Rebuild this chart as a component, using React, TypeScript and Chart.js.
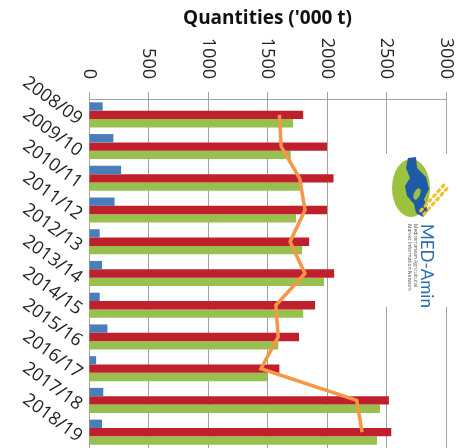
import React, { useEffect, useRef } from "react";
import { Chart, registerables } from "chart.js";

Chart.register(...registerables);

const categories = ["2008/09", "2009/10", "2010/11", "2011/12", "2012/13", "2013/14", "2014/15", "2015/16", "2016/17", "2017/18", "2018/19"];
const blueSeries = [115, 205, 270, 215, 90, 110, 90, 155, 60, 120, 110];
const redSeries = [1800, 2000, 2055, 2000, 1850, 2060, 1900, 1765, 1600, 2520, 2540];
const greenSeries = [1715, 1695, 1775, 1740, 1790, 1975, 1800, 1590, 1500, 2445, 2420];
const orangeSeries = [1600, 1615, 1770, 1815, 1690, 1815, 1570, 1590, 1445, 2250, 2295];
const xTicks = [0, 500, 1000, 1500, 2000, 2500, 3000];
const axisTitle = "Quantities ('000 t)";
const logoTitle = "MED-Amin";
const logoLines = ["Mediterranean Agricultural", "Market Information Network"];

const GRID = "#a3a3a3";

const labelPlugin = {
  id: "axisLabels",
  afterDraw(chart: any) {
    const ctx = chart.ctx;
    const xs = chart.scales.x;
    const ys = chart.scales.y;
    ctx.save();
    ctx.font = "18px 'Open Sans'";
    ctx.fillStyle = "#262626";
    ctx.textAlign = "right";
    ctx.textBaseline = "middle";
    xTicks.forEach((v) => {
      const px = xs.getPixelForValue(v);
      ctx.save();
      ctx.translate(px, xs.bottom - 20);
      ctx.rotate(Math.PI / 2);
      ctx.fillText(String(v), 0, 0);
      ctx.restore();
    });
    ctx.fillStyle = "#1f1f1f";
    ctx.font = "18px 'Open Sans'";
    categories.forEach((c, i) => {
      const py = ys.getPixelForValue(i);
      ctx.save();
      ctx.translate(ys.right - 9, py + 6);
      ctx.rotate((36 * Math.PI) / 180);
      ctx.fillText(c, 0, 0);
      ctx.restore();
    });
    ctx.restore();
  },
};

const logoPlugin = {
  id: "logo",
  afterDraw(chart: any) {
    const ctx = chart.ctx;
    ctx.save();
    ctx.fillStyle = "#ffffff";
    ctx.fillRect(376, 146, 66, 153);
    // green ellipse
    ctx.fillStyle = "#9cc23f";
    ctx.beginPath();
    ctx.ellipse(403, 180, 19, 29, 0, 0, Math.PI * 2);
    ctx.fill();
    // blue shape
    ctx.fillStyle = "#1f5aa6";
    const pts = [
      [400, 150], [408, 149], [409, 160], [418, 169], [421, 181], [416, 191],
      [420, 203], [415, 209], [408, 205], [406, 196], [399, 188], [397, 178],
      [402, 170], [398, 160],
    ];
    ctx.beginPath();
    pts.forEach(([x, y], i) => (i === 0 ? ctx.moveTo(x, y) : ctx.lineTo(x, y)));
    ctx.closePath();
    ctx.fill();
    ctx.fillStyle = "#9cc23f";
    ctx.beginPath();
    ctx.ellipse(409, 186, 3, 6, 0.4, 0, Math.PI * 2);
    ctx.fill();
    // wheat
    ctx.fillStyle = "#f2bf2f";
    for (let i = 0; i < 6; i++) {
      const cx = 435 - i * 4.3;
      const cy = 178 + i * 4.8;
      ctx.beginPath();
      ctx.ellipse(cx, cy, 2.8, 1.7, -0.8, 0, Math.PI * 2);
      ctx.fill();
      ctx.beginPath();
      ctx.ellipse(cx + 3.2, cy + 3.4, 2.8, 1.7, -0.8, 0, Math.PI * 2);
      ctx.fill();
    }
    // text rotated
    ctx.translate(418, 216);
    ctx.rotate(Math.PI / 2);
    ctx.fillStyle = "#2b6cb5";
    ctx.font = "17px Lato";
    ctx.textAlign = "left";
    ctx.textBaseline = "middle";
    ctx.fillText(logoTitle, 0, 0);
    ctx.fillStyle = "#555";
    ctx.font = "5px 'Open Sans'";
    ctx.fillText(logoLines[0], 0, 11);
    ctx.fillText(logoLines[1], 0, 17);
    ctx.restore();
  },
};

export default function App() {
  const canvasRef = useRef<HTMLCanvasElement | null>(null);

  useEffect(() => {
    if (!canvasRef.current) return;
    const chart = new Chart(canvasRef.current, {
      type: "bar",
      data: {
        labels: categories,
        datasets: [
          {
            type: "line",
            label: "Orange",
            data: orangeSeries,
            indexAxis: "y",
            borderColor: "#f79646",
            backgroundColor: "#f79646",
            borderWidth: 3.5,
            pointRadius: 0,
            tension: 0,
            order: 0,
          } as any,
          { label: "Blue", data: blueSeries, backgroundColor: "#4a7ebb", order: 1 },
          { label: "Red", data: redSeries, backgroundColor: "#c0202b", order: 1 },
          { label: "Green", data: greenSeries, backgroundColor: "#98c04f", order: 1 },
        ],
      },
      options: {
        indexAxis: "y",
        responsive: false,
        animation: false,
        layout: { padding: { left: 0, right: 11, top: 0, bottom: 0 } },
        datasets: {
          bar: { categoryPercentage: 0.79, barPercentage: 1.0 },
        },
        plugins: {
          legend: { display: false },
          tooltip: { enabled: false },
          title: { display: false },
        },
        scales: {
          x: {
            type: "linear",
            position: "top",
            min: 0,
            max: 3000,
            afterBuildTicks: (scale: any) => {
              scale.ticks = xTicks.map((v) => ({ value: v }));
            },
            afterFit: (scale: any) => {
              scale.height = 91;
            },
            ticks: { display: false },
            grid: { color: GRID, tickLength: 7, drawTicks: true, lineWidth: 1 },
            border: { display: true, color: GRID },
            title: {
              display: true,
              text: axisTitle,
              font: { family: "'Open Sans'", size: 19, weight: "bold", lineHeight: 1.1 },
              color: "#111",
              padding: { top: 0, bottom: 0 },
            },
          },
          y: {
            type: "category",
            offset: true,
            afterFit: (scale: any) => {
              scale.width = 81;
            },
            grid: { display: false },
            border: { display: true, color: GRID },
            ticks: { display: false },
          },
        },
      },
      plugins: [labelPlugin, logoPlugin],
    } as any);
    return () => chart.destroy();
  }, []);

  return (
    <div style={{ position: "absolute", left: 8, top: 8, width: 449, height: 440 }}>
      <canvas ref={canvasRef} width={449} height={440} style={{ display: "block" }} />
    </div>
  );
}
